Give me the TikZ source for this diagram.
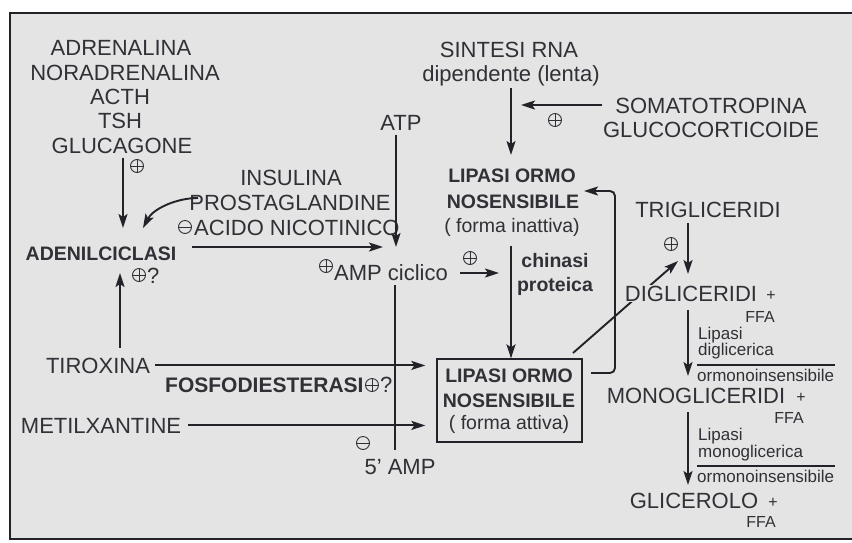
\documentclass[tikz,border=0pt]{standalone}
\usepackage{fontspec}
\setmainfont{Liberation Sans}
\usetikzlibrary{arrows.meta}
\definecolor{ink}{RGB}{48,48,54}
\definecolor{bgc}{RGB}{228,228,228}
\definecolor{lin}{RGB}{34,34,40}
\begin{document}
\begin{tikzpicture}[x=1pt,y=-1pt,
 txt/.style={inner sep=0pt,anchor=base,text=ink,font=\fontsize{22}{25}\selectfont},
 bld/.style={txt,font=\fontsize{19.5}{23}\selectfont\bfseries},
 mid/.style={txt,font=\fontsize{19.5}{23}\selectfont},
 sml/.style={txt,font=\fontsize{17}{20}\selectfont},
 tny/.style={txt,font=\fontsize{16}{19}\selectfont},
 arr/.style={draw=lin,line width=1.9pt,-{Stealth[length=14pt,width=9pt,inset=3pt]}},
 ln/.style={draw=lin,line width=1.9pt},
 thin/.style={draw=lin,line width=1.2pt},
 sgn/.style={circle,draw=ink,line width=0.9pt,minimum size=13pt,inner sep=0pt},
 pls/.style={sgn,path picture={\draw[ink,line width=0.9pt] (path picture bounding box.north)--(path picture bounding box.south) (path picture bounding box.west)--(path picture bounding box.east);}},
 mns/.style={sgn,path picture={\draw[ink,line width=0.9pt] (path picture bounding box.west)--(path picture bounding box.east);}},
]
\useasboundingbox (0,0) rectangle (852,542);
\fill[white] (0,0) rectangle (852,542);
\fill[bgc] (10,13) rectangle (852,539);
\draw[lin,line width=1.5pt] (852,13) -- (10,13) -- (10,539) -- (852,539);

% left hormones
\node[txt] (adr) at (121,55) {ADRENALINA};
\node[txt] (nor) at (125,80) {NORADRENALINA};
\node[txt] (acth) at (120,104) {ACTH};
\node[txt] (tsh) at (120,128) {TSH};
\node[txt] (glu) at (122,153) {GLUCAGONE};
\node[pls] (p1) at (137,166) {};
\node[bld] (aden) at (101,260) {ADENILCICLASI};
\node[pls] (p2) at (139,275) {};
\node[txt,anchor=base west] (q1) at (147,283) {?};

% inhibitors
\node[txt] (ins) at (291,185) {INSULINA};
\node[txt] (pros) at (290,210) {PROSTAGLANDINE};
\node[mns] (m1) at (185,227) {};
\node[txt,anchor=base west] (acn) at (194,235) {ACIDO NICOTINICO};

% ATP / AMP
\node[txt] (atp) at (401,130) {ATP};
\node[pls] (p3) at (326,266) {};
\node[txt,anchor=base west] (amp) at (334,280) {AMP ciclico};
\node[pls] (p4) at (470,258) {};
\node[txt] (amp5) at (400,474) {5' AMP};
\node[mns] (m2) at (363,443) {};

% tiroxina etc.
\node[txt] (tir) at (98,373) {TIROXINA};
\node[bld,font=\fontsize{21}{24}\selectfont\bfseries,anchor=base west] (fos) at (165,392) {FOSFODIESTERASI};
\node[pls] (p5) at (372,385) {};
\node[txt,anchor=base west] (q2) at (380,392) {?};
\node[txt] (met) at (101,433) {METILXANTINE};

% sintesi
\node[txt] (sin) at (509,57) {SINTESI RNA};
\node[txt] (dip) at (511,81) {dipendente (lenta)};
\node[txt] (som) at (711,113) {SOMATOTROPINA};
\node[txt] (glc) at (711,137) {GLUCOCORTICOIDE};
\node[pls] (p6) at (555,120) {};

% inactive lipase
\node[bld] (li1) at (512,182) {LIPASI ORMO};
\node[bld] (li2) at (513,208) {NOSENSIBILE};
\node[mid] (li3) at (512,232) {( forma inattiva)};
\node[bld] (chi) at (555,267) {chinasi};
\node[bld] (pro) at (555,291) {proteica};

% active lipase box
\node[draw=lin,line width=1.3pt,minimum width=145pt,minimum height=83pt,inner sep=0pt] (box) at (509.5,400.5) {};
\node[bld] (la1) at (509,382) {LIPASI ORMO};
\node[bld] (la2) at (509,407) {NOSENSIBILE};
\node[mid] (la3) at (509,429) {( forma attiva)};

% triglycerides cascade
\node[txt] (tri) at (708,217) {TRIGLICERIDI};
\node[pls] (p7) at (671,244) {};
\coordinate (dgS) at (573,353);
\coordinate (dgE) at (678,261);
\draw[arr] (dgS) -- (dgE);
\node[txt,fill=bgc,inner sep=1pt] (dig) at (691,301) {DIGLICERIDI};
\node[tny] (pl1) at (771,300) {+};
\node[tny] (ffa1) at (760,322) {FFA};
\node[sml,anchor=base west] (lp1) at (698,339) {Lipasi};
\node[sml,anchor=base west] (dg1) at (698,355) {diglicerica};
\node[sml,anchor=base west] (or1) at (697,381) {ormonoinsensibile};
\node[txt] (mon) at (696,403) {MONOGLICERIDI};
\node[tny] (pl2) at (801,402) {+};
\node[tny] (ffa2) at (789,423) {FFA};
\node[sml,anchor=base west] (lp2) at (698,440) {Lipasi};
\node[sml,anchor=base west] (mg2) at (698,457) {monoglicerica};
\node[sml,anchor=base west] (or2) at (697,482) {ormonoinsensibile};
\node[txt] (gli) at (694,508) {GLICEROLO};
\node[tny] (pl3) at (773,507) {+};
\node[tny] (ffa3) at (761,527) {FFA};

% coordinates for connector ends
\coordinate (g1) at (123,158); \coordinate (g2) at (123,228);
\coordinate (t1) at (120,348); \coordinate (t2) at (120,273);
\coordinate (c1) at (198,198); \coordinate (c2) at (143,228);
\coordinate (a1) at (396,135); \coordinate (a2) at (396,247);
\coordinate (d1) at (192,247); \coordinate (d2) at (383,247);
\coordinate (k1) at (460,273); \coordinate (k2) at (499,273);
\coordinate (v1) at (395,285); \coordinate (v2) at (395,450);
\coordinate (s1) at (511,88); \coordinate (s2) at (511,155);
\coordinate (o1) at (602,105); \coordinate (o2) at (521,105);
\coordinate (i1) at (511,246);
\coordinate (f1) at (591,373); \coordinate (f2) at (584,191);
\coordinate (tr1) at (688,223); \coordinate (tr2) at (688,274);
\coordinate (di1) at (688,310); \coordinate (di2) at (688,376);
\coordinate (mo1) at (688,412); \coordinate (mo2) at (688,485);
\coordinate (h1a) at (697,365); \coordinate (h1b) at (835,365);
\coordinate (h2a) at (697,466); \coordinate (h2b) at (835,466);

\draw[arr] (g1) -- (g2);
\draw[arr] (t1) -- (t2);
\draw[arr] (c1) .. controls (176,198) and (153,209) .. (c2);
\draw[arr] (a1) -- (a2);
\draw[arr] (d1) -- (d2);
\draw[arr] (k1) -- (k2);
\draw[ln] (v1) -- (v2);
\draw[arr] (s1) -- (s2);
\draw[arr] (o1) -- (o2);
\draw[arr] (i1) -- (box.north -| i1);
\draw[arr] (tir.east) ++(5,0) -- ([xshift=-11pt]box.west |- tir.east);
\draw[arr] (met.east) ++(7,0) -- ([xshift=-11pt]box.west |- met.east);
\draw[arr,rounded corners=5pt] (f1) -- (615,373) -- (615,191) -- (f2);
\draw[arr] (tr1) -- (tr2);
\draw[arr] (di1) -- (di2);
\draw[arr] (mo1) -- (mo2);
\draw[thin] (h1a) -- (h1b);
\draw[thin] (h2a) -- (h2b);
\end{tikzpicture}
\end{document}
